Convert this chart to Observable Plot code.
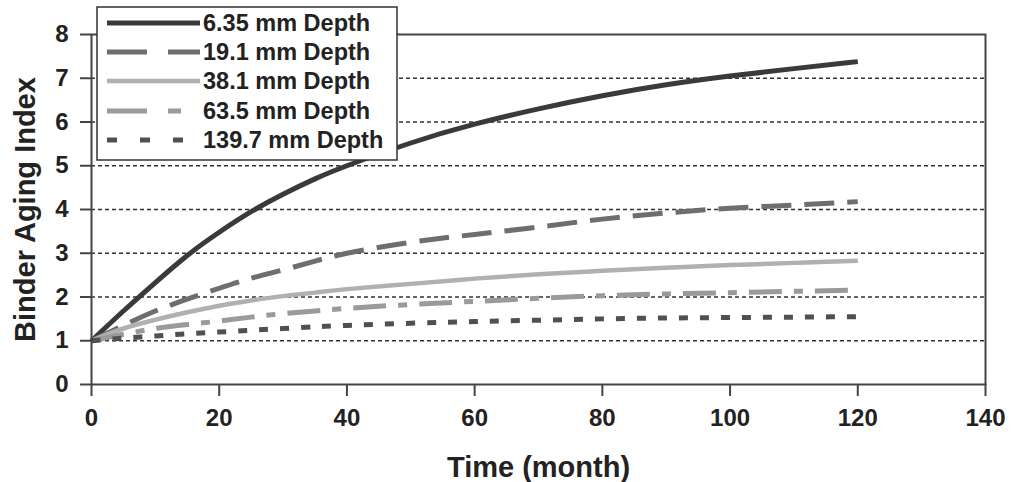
<!DOCTYPE html>
<html>
<head>
<meta charset="utf-8">
<script src="https://cdn.jsdelivr.net/npm/d3@7"></script>
<script src="https://cdn.jsdelivr.net/npm/@observablehq/plot@0.6"></script>
<style>
  html, body { margin: 0; padding: 0; background: #fff; }
  #chart { position: relative; width: 1013px; height: 482px; }
</style>
</head>
<body>
<div id="chart"></div>
<script>
const months = [0, 5, 10, 15, 20, 25, 30, 35, 40, 50, 60, 70, 80, 90, 100, 110, 120];
const depth635 = [1, 1.68, 2.33, 2.95, 3.48, 3.95, 4.35, 4.7, 5.0, 5.52, 5.95, 6.3, 6.6, 6.85, 7.05, 7.22, 7.38];
const depth191 = [1, 1.35, 1.68, 1.95, 2.2, 2.43, 2.62, 2.82, 3.0, 3.25, 3.43, 3.6, 3.78, 3.92, 4.03, 4.1, 4.18];
const depth381 = [1, 1.28, 1.48, 1.65, 1.8, 1.92, 2.02, 2.1, 2.18, 2.3, 2.42, 2.52, 2.6, 2.67, 2.73, 2.78, 2.83];
const depth635b = [1, 1.15, 1.28, 1.37, 1.45, 1.54, 1.62, 1.68, 1.74, 1.83, 1.9, 1.97, 2.03, 2.07, 2.1, 2.13, 2.16];
const depth1397 = [1, 1.06, 1.11, 1.16, 1.2, 1.24, 1.28, 1.32, 1.35, 1.4, 1.44, 1.47, 1.5, 1.52, 1.53, 1.54, 1.55];
const seriesNames = ["6.35 mm Depth", "19.1 mm Depth", "38.1 mm Depth", "63.5 mm Depth", "139.7 mm Depth"];
const xTicks = [0, 20, 40, 60, 80, 100, 120, 140];
const yTicks = [0, 1, 2, 3, 4, 5, 6, 7, 8];
const gridValues = [1, 2, 3, 4, 5, 6, 7];
const xLabel = "Time (month)";
const yLabel = "Binder Aging Index";

const allValues = [depth635, depth191, depth381, depth635b, depth1397];
const styles = [
  {stroke: "#3a3a3a", width: 5, dash: null, legendDash: null},
  {stroke: "#6e6e6e", width: 5, dash: "30,13", legendDash: "40,21"},
  {stroke: "#b0b0b0", width: 4.5, dash: null, legendDash: null},
  {stroke: "#9a9a9a", width: 5, dash: "33,12,9,12", legendDash: "40,21,13,40"},
  {stroke: "#505050", width: 5, dash: "9,12", legendDash: "10,23"}
];
const tables = allValues.map((vals, i) => months.map((m, j) => ({month: m, value: vals[j], series: seriesNames[i]})));

const font = "'Liberation Sans', Arial, sans-serif";

const plot = Plot.plot({
  width: 1013,
  height: 482,
  marginLeft: 91,
  marginRight: 28,
  marginTop: 34,
  marginBottom: 98,
  style: {fontFamily: font, fontWeight: "bold", color: "#222", background: "#fff", overflow: "visible"},
  x: {domain: [0, 140], ticks: xTicks, label: null},
  y: {domain: [0, 8], ticks: yTicks, label: null},
  marks: [
    Plot.ruleY(gridValues, {stroke: "#333", strokeWidth: 1.6, strokeDasharray: "4,3"}),
    ...tables.map((t, i) => Plot.line(t, {
      x: "month", y: "value", curve: "natural",
      stroke: styles[i].stroke, strokeWidth: styles[i].width,
      strokeDasharray: styles[i].dash, strokeLinecap: "butt"
    })),
    Plot.frame({stroke: "#444", strokeWidth: 2}),
    Plot.axisX(xTicks, {tickSize: 12, tickPadding: 12, fontSize: 24, strokeWidth: 2, stroke: "#444", label: null}),
    Plot.axisY(yTicks, {tickSize: 11, tickPadding: 12, fontSize: 24, strokeWidth: 2, stroke: "#444", label: null}),
    Plot.text([xLabel], {frameAnchor: "bottom", dy: 83, fontSize: 29, fontWeight: "bold", lineAnchor: "middle", textAnchor: "middle", fill: "#222"}),
    Plot.text([yLabel], {frameAnchor: "left", dx: -66, rotate: -90, fontSize: 29, fontWeight: "bold", lineAnchor: "middle", textAnchor: "middle", fill: "#222"})
  ]
});

document.getElementById("chart").appendChild(plot);

// Legend drawn inside the same SVG
const svg = d3.select(plot);
const lg = svg.append("g").attr("class", "legend");
lg.append("rect").attr("x", 97).attr("y", 7).attr("width", 300).attr("height", 153)
  .attr("fill", "#fff").attr("stroke", "#333").attr("stroke-width", 1.5);
const rowY = [23, 52, 81, 111, 140];
seriesNames.forEach((name, i) => {
  const s = styles[i];
  lg.append("line").attr("x1", 107).attr("x2", 200).attr("y1", rowY[i]).attr("y2", rowY[i])
    .attr("stroke", s.stroke).attr("stroke-width", s.width)
    .attr("stroke-dasharray", s.legendDash);
  lg.append("text").attr("x", 203).attr("y", rowY[i]).attr("dy", "0.35em")
    .attr("text-anchor", "start")
    .attr("font-family", font).attr("font-weight", "bold").attr("font-size", 23.5)
    .attr("fill", "#222").text(name);
});
</script>
</body>
</html>
